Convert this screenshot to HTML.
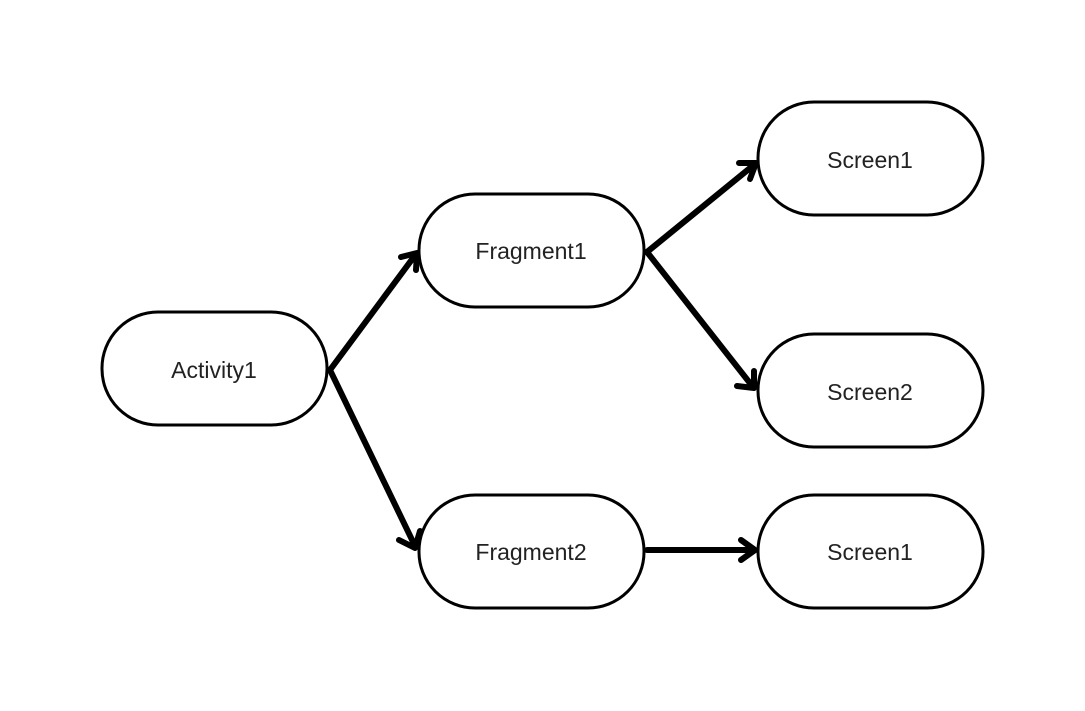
<!DOCTYPE html>
<html><head><style>
html,body{margin:0;padding:0;background:#fff;}
svg{display:block}
text{font-family:"Liberation Sans",sans-serif;font-size:23px;fill:#222;}
</style></head><body>
<svg width="1085" height="711" viewBox="0 0 1085 711" xmlns="http://www.w3.org/2000/svg">
<g fill="#fff" stroke="#000" stroke-width="3">
<rect x="102" y="312" width="225" height="113" rx="56"/>
<rect x="419" y="194" width="225" height="113" rx="56"/>
<rect x="419" y="495" width="225" height="113" rx="56"/>
<rect x="758" y="102" width="225" height="113" rx="56"/>
<rect x="758" y="334" width="225" height="113" rx="56"/>
<rect x="758" y="495" width="225" height="113" rx="56"/>
</g>
<g stroke="#000" stroke-width="6" stroke-linecap="round" stroke-linejoin="round" fill="none">
<path d="M330 370 L416 254"/><path d="M401 257 L417 253 L416 270"/>
<path d="M330 370 L415 546"/><path d="M399 540 L415 548 L420 531"/>
<path d="M647 252 L755 164"/><path d="M739 163 L756 163 L750 179"/>
<path d="M647 252 L753 387"/><path d="M737 386 L754 388 L754 371"/>
<path d="M647 550 L754 550"/><path d="M741 540 L755 550 L741 560"/>
</g>
<g text-anchor="middle">
<text x="214" y="378">Activity1</text>
<text x="531" y="259">Fragment1</text>
<text x="531" y="560">Fragment2</text>
<text x="870" y="168">Screen1</text>
<text x="870" y="400">Screen2</text>
<text x="870" y="560">Screen1</text>
</g>
</svg>
</body></html>
